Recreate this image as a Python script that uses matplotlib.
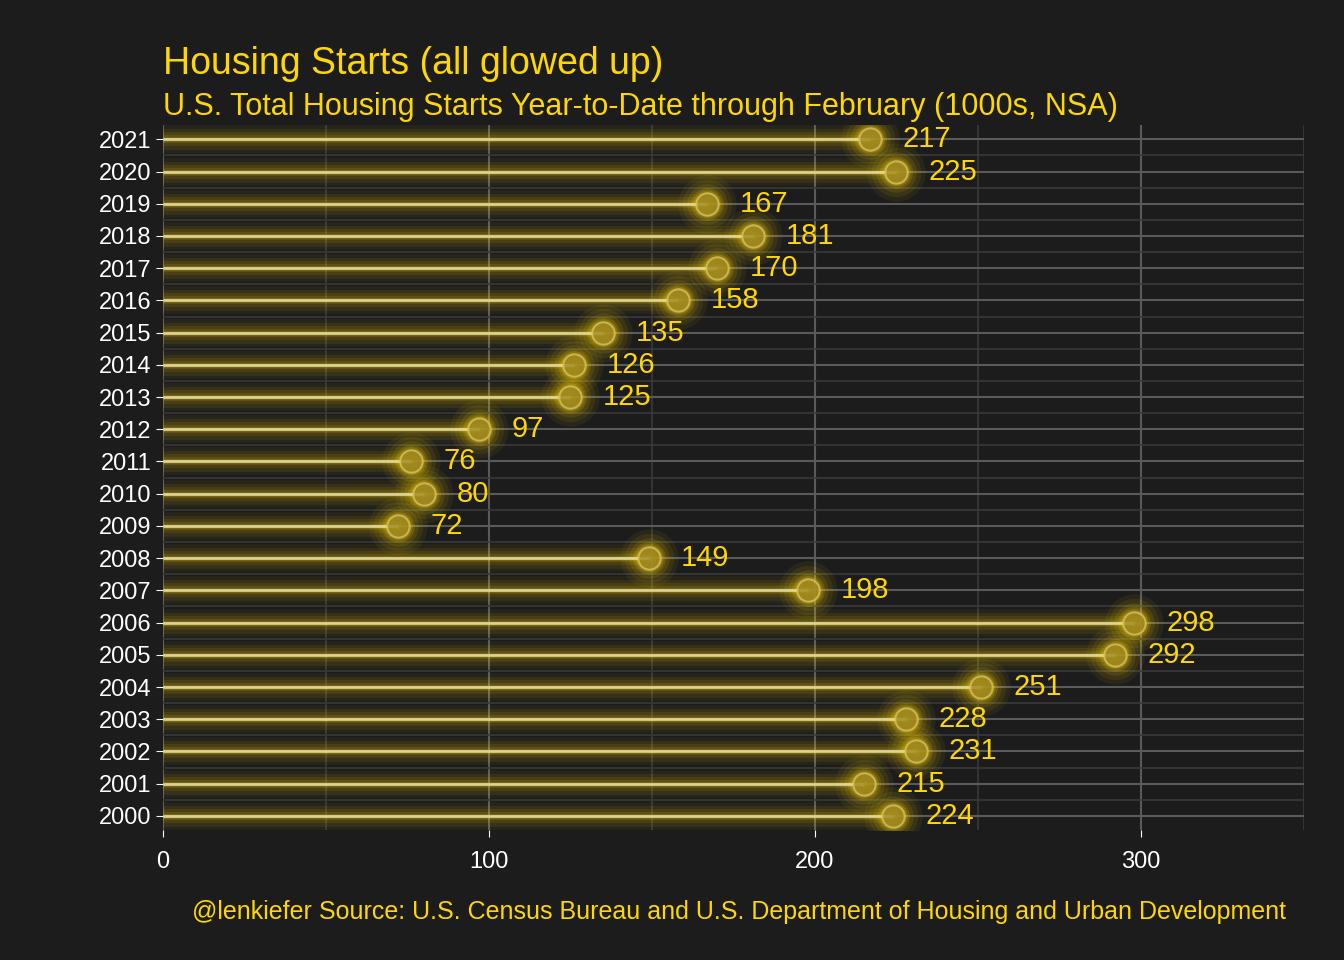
import matplotlib.pyplot as plt
import numpy as np

years = list(range(2000, 2022))
starts = [224, 215, 231, 228, 251, 292, 298, 198, 149, 72, 80, 76,
          97, 125, 126, 135, 158, 170, 181, 167, 225, 217]

BG = '#1c1c1c'
GOLD = '#ffd700'
plt.rcParams['font.family'] = ['Arial', 'Liberation Sans', 'DejaVu Sans']

fig = plt.figure(figsize=(13.44, 9.6), dpi=100, facecolor=BG)
ax = fig.add_axes([0.1213, 0.135, 0.8487, 0.735], facecolor=BG)

y = np.array(years)
x = np.array(starts)

# grid
for v in [50, 150, 250, 350]:
    ax.axvline(v, color='#3a3a3a', lw=1.2, zorder=0)
for v in [0, 100, 200, 300]:
    ax.axvline(v, color='#5a5a5a', lw=1.5, zorder=0)
for yy in y:
    ax.axhline(yy, color='#5a5a5a', lw=1.5, zorder=0)
    ax.axhline(yy + 0.5, color='#3a3a3a', lw=1.2, zorder=0)

# glow layers
for w, a in [(20, 0.05), (15, 0.07), (10, 0.09), (6, 0.12), (3.5, 0.15)]:
    ax.hlines(y, 0, x, color=GOLD, lw=w, alpha=a, zorder=1, capstyle='round')
    ax.scatter(x, y, s=(w * 1.3 + 16) ** 2, color=GOLD, alpha=a * 1.2, lw=0, zorder=1)
ax.hlines(y, 0, x, color='#e8dfa8', lw=2, alpha=0.85, zorder=2)
ax.scatter(x, y, s=260, color='#a08a22', edgecolors='#d8c260', lw=1.5,
           alpha=0.8, zorder=3)

for xi, yi in zip(x, y):
    ax.text(xi + 10, yi, str(xi), color=GOLD, fontsize=21, va='center', ha='left', zorder=4)

ax.set_xlim(0, 350)
ax.set_ylim(1999.55, 2021.45)
ax.set_xticks([0, 100, 200, 300])
ax.set_yticks(years)
ax.tick_params(colors='white', labelsize=17, length=5)
ax.tick_params(axis='x', pad=10)
for s in ax.spines.values():
    s.set_visible(False)

fig.text(0.1213, 0.915, 'Housing Starts (all glowed up)', color=GOLD, fontsize=27, va='bottom')
fig.text(0.1213, 0.873, 'U.S. Total Housing Starts Year-to-Date through February (1000s, NSA)',
         color=GOLD, fontsize=22, va='bottom')
fig.text(0.957, 0.05, '@lenkiefer Source: U.S. Census Bureau and U.S. Department of Housing and Urban Development',
         color=GOLD, fontsize=18, ha='right', va='center')

fig.savefig('out.png', facecolor=BG)
